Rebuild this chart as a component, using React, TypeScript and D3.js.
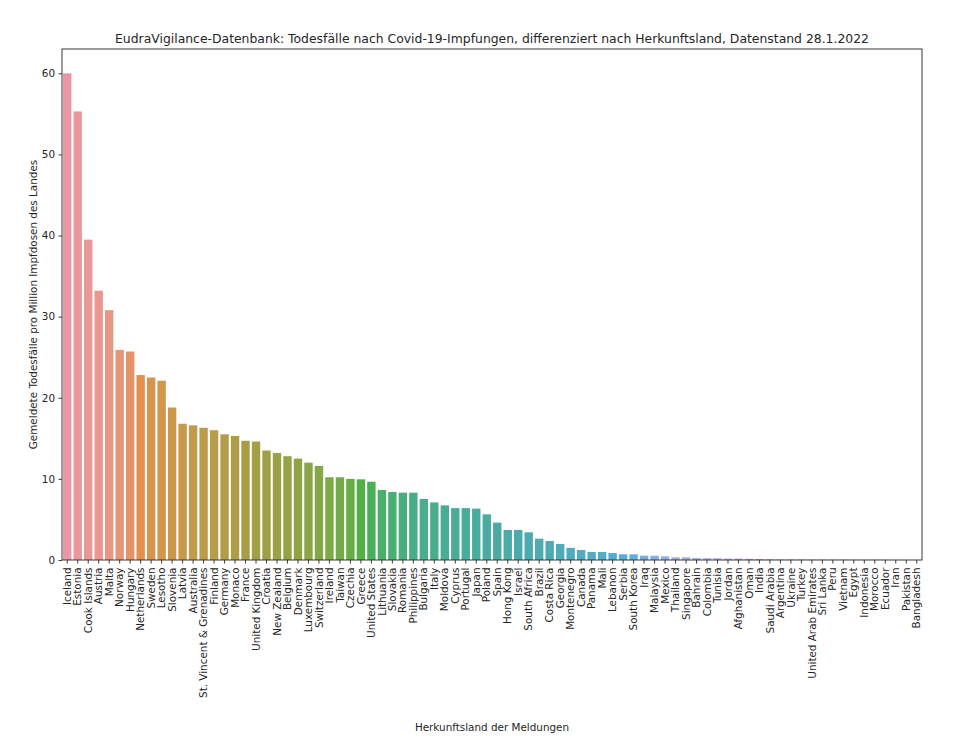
import * as d3 from 'd3';
import { useEffect, useRef } from 'react';

const W = 966;
const H = 749;

const title =
  'EudraVigilance-Datenbank: Todesfälle nach Covid-19-Impfungen, differenziert nach Herkunftsland, Datenstand 28.1.2022';
const yLabel = 'Gemeldete Todesfälle pro Million Impfdosen des Landes';
const xLabel = 'Herkunftsland der Meldungen';

const countries = [
  'Iceland', 'Estonia', 'Cook Islands', 'Austria', 'Malta', 'Norway', 'Hungary', 'Netherlands',
  'Sweden', 'Lesotho', 'Slovenia', 'Latvia', 'Australia', 'St. Vincent & Grenadines', 'Finland',
  'Germany', 'Monaco', 'France', 'United Kingdom', 'Croatia', 'New Zealand', 'Belgium', 'Denmark',
  'Luxembourg', 'Switzerland', 'Ireland', 'Taiwan', 'Czechia', 'Greece', 'United States',
  'Lithuania', 'Slovakia', 'Romania', 'Philippines', 'Bulgaria', 'Italy', 'Moldova', 'Cyprus',
  'Portugal', 'Japan', 'Poland', 'Spain', 'Hong Kong', 'Israel', 'South Africa', 'Brazil',
  'Costa Rica', 'Georgia', 'Montenegro', 'Canada', 'Panama', 'Mali', 'Lebanon', 'Serbia',
  'South Korea', 'Iraq', 'Malaysia', 'Mexico', 'Thailand', 'Singapore', 'Bahrain', 'Colombia',
  'Tunisia', 'Jordan', 'Afghanistan', 'Oman', 'India', 'Saudi Arabia', 'Argentina', 'Ukraine',
  'Turkey', 'United Arab Emirates', 'Sri Lanka', 'Peru', 'Vietnam', 'Egypt', 'Indonesia',
  'Morocco', 'Ecuador', 'Iran', 'Pakistan', 'Bangladesh',
];

const deathsPerMillion = [
  60.0, 55.3, 39.5, 33.2, 30.8, 25.9, 25.7, 22.8,
  22.5, 22.1, 18.8, 16.8, 16.6, 16.3, 16.0,
  15.5, 15.3, 14.7, 14.6, 13.5, 13.2, 12.8, 12.5,
  12.0, 11.6, 10.2, 10.2, 10.0, 9.95, 9.65,
  8.63, 8.38, 8.3, 8.3, 7.52, 7.1, 6.74, 6.4,
  6.4, 6.33, 5.63, 4.6, 3.7, 3.7, 3.41, 2.63,
  2.34, 1.97, 1.5, 1.23, 0.99, 0.99, 0.86, 0.7,
  0.7, 0.53, 0.53, 0.45, 0.33, 0.33, 0.25, 0.22,
  0.22, 0.18, 0.18, 0.15, 0.12, 0.08, 0.07, 0.06,
  0.06, 0.05, 0.05, 0.04, 0.04, 0.03, 0.03,
  0.03, 0.02, 0.02, 0.01, 0.01,
];

const yTicks = [0, 10, 20, 30, 40, 50, 60];

// HUSL -> rgb (wie seaborn husl_palette)
const M = [
  [3.240969941904521, -1.537383177570093, -0.498610760293],
  [-0.96924363628087, 1.87596750150772, 0.041555057407175],
  [0.055630079696993, -0.20397695888897, 1.056971514242878],
];
const refU = 0.19783000664283;
const refV = 0.46831999493879;
const kappa = 903.2962962;
const epsilon = 0.0088564516;

function maxChroma(L: number, hDeg: number) {
  const hrad = (hDeg / 360) * Math.PI * 2;
  const sub1 = Math.pow(L + 16, 3) / 1560896;
  const sub2 = sub1 > epsilon ? sub1 : L / kappa;
  let min = Infinity;
  for (const [m1, m2, m3] of M) {
    for (let t = 0; t < 2; t++) {
      const top1 = (284517 * m1 - 94839 * m3) * sub2;
      const top2 = (838422 * m3 + 769860 * m2 + 731718 * m1) * L * sub2 - 769860 * t * L;
      const bottom = (632260 * m3 - 126452 * m2) * sub2 + 126452 * t;
      const slope = top1 / bottom;
      const intercept = top2 / bottom;
      const len = intercept / (Math.sin(hrad) - slope * Math.cos(hrad));
      if (len >= 0) min = Math.min(min, len);
    }
  }
  return min;
}

function huslToRgb(h: number, s: number, l: number): [number, number, number] {
  const C = (maxChroma(l, h) / 100) * s;
  const hr = (h / 180) * Math.PI;
  const U = Math.cos(hr) * C;
  const V = Math.sin(hr) * C;
  const varU = U / (13 * l) + refU;
  const varV = V / (13 * l) + refV;
  const Y = l <= 8 ? l / kappa : Math.pow((l + 16) / 116, 3);
  const X = 0 - (9 * Y * varU) / ((varU - 4) * varV - varU * varV);
  const Z = (9 * Y - 15 * varV * Y - varV * X) / (3 * varV);
  const fromLinear = (c: number) => (c <= 0.0031308 ? 12.92 * c : 1.055 * Math.pow(c, 1 / 2.4) - 0.055);
  return M.map((r) => Math.max(0, Math.min(1, fromLinear(r[0] * X + r[1] * Y + r[2] * Z)))) as [number, number, number];
}

function desaturate([r, g, b]: [number, number, number], prop: number) {
  const hsl = d3.hsl(d3.rgb(r * 255, g * 255, b * 255));
  hsl.s *= prop;
  return hsl.formatHex();
}

function palette(n: number) {
  return d3.range(n).map((i) => {
    const h = ((i / n + 0.01) % 1) * 359;
    return desaturate(huslToRgb(h, 0.9 * 99, 0.7 * 99), 0.75);
  });
}

export default function App() {
  const ref = useRef<SVGSVGElement>(null);

  useEffect(() => {
    if (!ref.current) return;
    const svg = d3.select(ref.current);
    svg.selectAll('*').remove();

    const left = 62;
    const right = 922;
    const top = 49;
    const bottom = 560;
    const font = '"DejaVu Sans", sans-serif';
    const ink = '#262626';
    const colors = palette(countries.length);

    const x = d3.scaleBand().domain(countries).range([left, right]).paddingInner(0.2).paddingOuter(0.1);
    const y = d3.scaleLinear().domain([0, 63]).range([bottom, top]);

    svg.append('g')
      .selectAll('rect')
      .data(countries)
      .join('rect')
      .attr('x', (d) => x(d)!)
      .attr('width', x.bandwidth())
      .attr('y', (_, i) => y(deathsPerMillion[i]))
      .attr('height', (_, i) => bottom - y(deathsPerMillion[i]))
      .attr('fill', (_, i) => colors[i]);

    // Rahmen
    svg.append('rect')
      .attr('x', left)
      .attr('y', top)
      .attr('width', right - left)
      .attr('height', bottom - top)
      .attr('fill', 'none')
      .attr('stroke', ink)
      .attr('stroke-width', 0.9);

    // y-Achse
    const yAxis = svg.append('g')
      .attr('transform', `translate(${left},0)`)
      .call(d3.axisLeft(y).tickValues(yTicks).tickSize(3.5).tickPadding(3.5).tickFormat(d3.format('d')));
    yAxis.select('.domain').remove();
    yAxis.selectAll('line').attr('stroke', ink).attr('stroke-width', 0.9);
    yAxis.selectAll('text').attr('fill', ink).style('font', `10.4px ${font}`);

    // x-Achse
    const xAxis = svg.append('g')
      .attr('transform', `translate(0,${bottom})`)
      .call(d3.axisBottom(x).tickSize(3.5).tickPadding(3.5));
    xAxis.select('.domain').remove();
    xAxis.selectAll('line').attr('stroke', ink).attr('stroke-width', 0.9);
    xAxis.selectAll('text')
      .attr('fill', ink)
      .style('font', `10.4px ${font}`)
      .attr('transform', 'rotate(-90)')
      .attr('x', -7.5)
      .attr('y', 0)
      .attr('dy', '0.35em')
      .attr('text-anchor', 'end');

    svg.append('text')
      .text(title)
      .attr('x', (left + right) / 2)
      .attr('y', 43)
      .attr('text-anchor', 'middle')
      .attr('fill', ink)
      .style('font', `12.4px ${font}`);

    svg.append('text')
      .text(yLabel)
      .attr('transform', `translate(33,${(top + bottom) / 2}) rotate(-90)`)
      .attr('dy', '0.35em')
      .attr('text-anchor', 'middle')
      .attr('fill', ink)
      .style('font', `10.4px ${font}`);

    svg.append('text')
      .text(xLabel)
      .attr('x', (left + right) / 2)
      .attr('y', 727)
      .attr('dy', '0.35em')
      .attr('text-anchor', 'middle')
      .attr('fill', ink)
      .style('font', `10.4px ${font}`);
  }, []);

  return (
    <svg
      ref={ref}
      width={W}
      height={H}
      style={{ position: 'absolute', left: 0, top: 0, background: '#fff' }}
    />
  );
}
